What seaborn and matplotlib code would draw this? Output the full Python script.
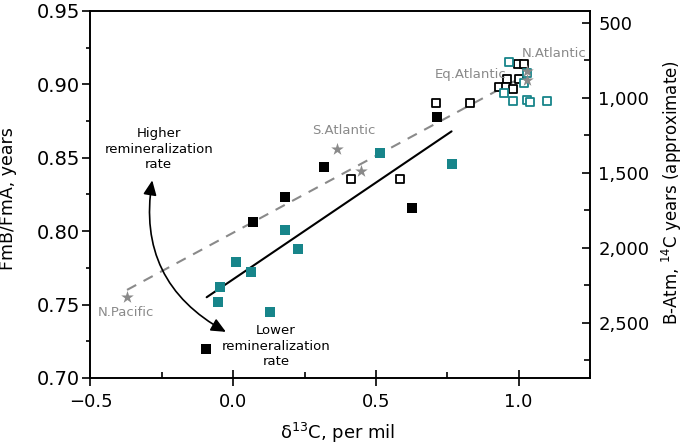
import numpy as np
import pandas as pd
import matplotlib
matplotlib.use("Agg")
import matplotlib.pyplot as plt
import seaborn as sns
from matplotlib.patches import FancyArrowPatch
from matplotlib.ticker import MultipleLocator, FuncFormatter

sns.set_theme(style="ticks")
plt.rcParams['font.family'] = ['DejaVu Sans']
plt.rcParams.update({
    'text.color': 'black', 'axes.labelcolor': 'black',
    'xtick.color': 'black', 'ytick.color': 'black',
    'axes.edgecolor': 'black', 'axes.linewidth': 1.2,
})

TEAL = "#17858a"
GRAY = "#8a8a8a"

# ---- data ----
black_filled_x = [0.715, 0.318, 0.627, 0.182, 0.068, -0.095]
black_filled_y = [0.878, 0.8435, 0.8156, 0.823, 0.806, 0.720]

teal_filled_x = [0.515, 0.765, 0.182, 0.228, 0.010, 0.064, -0.048, -0.052, 0.129]
teal_filled_y = [0.853, 0.846, 0.801, 0.788, 0.779, 0.772, 0.762, 0.752, 0.745]

black_open_x = [0.709, 0.831, 0.411, 0.583, 0.998, 1.019, 1.001, 0.960, 0.930, 0.956, 0.980]
black_open_y = [0.887, 0.887, 0.8356, 0.8356, 0.914, 0.914, 0.9035, 0.9035, 0.8984, 0.898, 0.8967]

teal_open_x = [0.967, 0.949, 0.979, 1.029, 1.041, 1.100, 1.020, 1.031]
teal_open_y = [0.915, 0.894, 0.889, 0.8897, 0.888, 0.889, 0.9007, 0.908]

star_x = [-0.372, 0.362, 0.446, 1.031, 1.031]
star_y = [0.755, 0.856, 0.841, 0.903, 0.909]

dashed_x = [-0.372, 1.022]
dashed_y = [0.760, 0.906]

solid_x = [-0.093, 0.765]
solid_y = [0.755, 0.868]

region_labels = ["N.Pacific", "S.Atlantic", "Eq.Atlantic", "N.Atlantic"]
region_label_x = [-0.376, 0.387, 0.833, 1.125]
region_label_y = [0.7448, 0.8685, 0.907, 0.921]

x_ticks = [-0.5, 0.0, 0.5, 1.0]
y_ticks = [0.70, 0.75, 0.80, 0.85, 0.90, 0.95]
age_ticks = [500, 1000, 1500, 2000, 2500]

# ---- figure ----
fig = plt.figure(figsize=(6.85, 4.47), dpi=100)
ax = fig.add_axes([0.1321, 0.1544, 0.7292, 0.8210])

sns.lineplot(x=dashed_x, y=dashed_y, ax=ax, color=GRAY, linewidth=1.5,
             linestyle=(0, (5, 4)), zorder=2)
sns.lineplot(x=solid_x, y=solid_y, ax=ax, color="black", linewidth=1.5, zorder=2)

sns.scatterplot(x=black_open_x, y=black_open_y, ax=ax, marker="s", s=40,
                facecolor="white", edgecolor="black", linewidth=1.3, zorder=3)
sns.scatterplot(x=teal_open_x, y=teal_open_y, ax=ax, marker="s", s=40,
                facecolor="white", edgecolor=TEAL, linewidth=1.3, zorder=3)
sns.scatterplot(x=black_filled_x, y=black_filled_y, ax=ax, marker="s", s=42,
                color="black", edgecolor="black", linewidth=0, zorder=4)
sns.scatterplot(x=teal_filled_x, y=teal_filled_y, ax=ax, marker="s", s=42,
                color=TEAL, edgecolor=TEAL, linewidth=0, zorder=4)
sns.scatterplot(x=star_x, y=star_y, ax=ax, marker="*", s=90,
                color=GRAY, edgecolor=GRAY, linewidth=0, zorder=5)

for lab, lx, ly in zip(region_labels, region_label_x, region_label_y):
    ax.text(lx, ly, lab, color=GRAY, fontsize=9.5, ha="center", va="center")

ax.text(-0.261, 0.8557, "Higher\nremineralization\nrate", fontsize=9.5,
        ha="center", va="center", linespacing=1.25)
ax.text(0.150, 0.7215, "Lower\nremineralization\nrate", fontsize=9.5,
        ha="center", va="center", linespacing=1.25)

arrow = FancyArrowPatch(posA=(-0.282, 0.8365), posB=(-0.017, 0.7305),
                        connectionstyle="arc3,rad=0.36",
                        arrowstyle="<|-|>,head_length=0.55,head_width=0.25",
                        mutation_scale=16, lw=1.2, color="black", zorder=6)
ax.add_patch(arrow)

ax.set_xlim(-0.5, 1.25)
ax.set_ylim(0.70, 0.95)
ax.set_xticks(x_ticks)
ax.set_yticks(y_ticks)
ax.xaxis.set_minor_locator(MultipleLocator(0.25))
ax.yaxis.set_minor_locator(MultipleLocator(0.025))
ax.yaxis.set_major_formatter(FuncFormatter(lambda v, p: f"{v:.2f}"))
ax.xaxis.set_major_formatter(FuncFormatter(lambda v, p: f"{v:.1f}".replace("-", "\u2212")))
ax.tick_params(axis="y", which="major", direction="out", length=6, width=1.2,
               labelsize=14, pad=1.5)
ax.tick_params(axis="y", which="minor", direction="out", length=3, width=1.2)
ax.tick_params(axis="x", which="major", direction="inout", length=12, width=1.2,
               labelsize=13, pad=5)
ax.tick_params(axis="x", which="minor", direction="in", length=4, width=1.2)

ax.set_xlabel("\u03b4$^{13}$C, per mil", fontsize=13)
ax.xaxis.set_label_coords(0.4955, -0.118)
ax.set_ylabel("FmB/FmA, years", fontsize=12.5)
ax.yaxis.set_label_coords(-0.147, 0.49)

ax2 = ax.twinx()
ax2.set_ylim(2867, 420)
ax2.set_yticks(age_ticks)
ax2.yaxis.set_minor_locator(MultipleLocator(250))
ax2.yaxis.set_major_formatter(FuncFormatter(lambda v, p: f"{int(round(v)):,}"))
ax2.tick_params(axis="y", which="major", direction="in", length=6, width=1.2,
                labelsize=13, pad=6)
ax2.tick_params(axis="y", which="minor", direction="in", length=4, width=1.2)
ax2.set_ylabel("B-Atm, $^{14}$C years (approximate)", fontsize=12)
ax2.yaxis.set_label_coords(1.139, 0.504)

for a in (ax, ax2):
    for sp in a.spines.values():
        sp.set_linewidth(1.2)
        sp.set_color("black")

fig.savefig("out.png", dpi=100)
